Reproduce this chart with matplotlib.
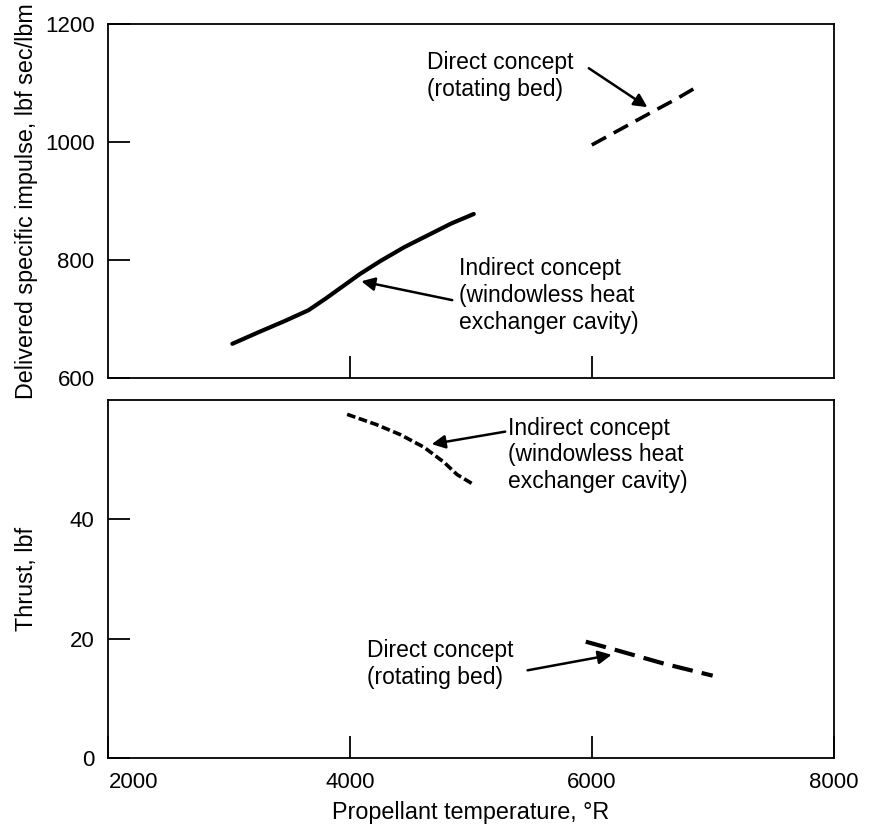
import matplotlib
matplotlib.use("Agg")
import matplotlib.pyplot as plt

plt.rcParams['font.family'] = ['Liberation Sans', 'DejaVu Sans']

# Top panel: delivered specific impulse vs propellant temperature
tempIndirectIsp = [3025, 3235, 3463, 3656, 3800, 3943, 4079, 4248, 4450, 4644, 4838, 5023]
ispIndirect = [658, 677, 697, 715, 735, 756, 776, 798, 822, 842, 862, 878]

tempDirectIsp = [6000, 6250, 6500, 6700, 6900]
ispDirect = [995, 1023, 1051, 1073, 1097]

# Bottom panel: thrust vs propellant temperature
tempIndirectThrust = [3975, 4215, 4415, 4610, 4775, 4885, 5025]
thrustIndirect = [57.6, 55.9, 54.2, 52.1, 49.6, 47.5, 45.8]

tempDirectThrust = [5950, 6200, 6600, 7000]
thrustDirect = [19.5, 18.1, 15.8, 13.8]

xTicks = [2000, 4000, 6000, 8000]
ispTicks = [600, 800, 1000, 1200]
thrustTicks = [0, 20, 40]

indirectLabel = "Indirect concept\n(windowless heat\nexchanger cavity)"
directLabel = "Direct concept\n(rotating bed)"

fig = plt.figure(figsize=(8.77, 8.27), dpi=100)
axTop = fig.add_axes([0.1237, 0.5429, 0.8267, 0.4281])
axBot = fig.add_axes([0.1237, 0.0834, 0.8267, 0.4329])

arrowStyle = dict(arrowstyle='-|>', color='black', lw=1.8,
                  mutation_scale=20, shrinkA=0, shrinkB=0)
noteSize = 16.5

# --- top panel ---
axTop.plot(tempIndirectIsp, ispIndirect, color='black', lw=3.0,
           solid_capstyle='round', solid_joinstyle='round')
axTop.plot(tempDirectIsp, ispDirect, color='black', lw=2.6,
           dashes=(4.5, 2.4))
axTop.set_xlim(2000, 8000)
axTop.set_ylim(600, 1200)
axTop.set_xticks([4000, 6000])
axTop.set_yticks(ispTicks)
axTop.tick_params(axis='x', labelbottom=False)
axTop.set_ylabel("Delivered specific impulse, lbf sec/lbm", fontsize=16.8)
axTop.yaxis.set_label_coords(-0.097, 0.5)

axTop.text(4640, 1112, directLabel, fontsize=noteSize, ha='left', va='center')
axTop.annotate("", xy=(6460, 1059), xytext=(5975, 1125), arrowprops=arrowStyle)
axTop.text(4904, 740, indirectLabel, fontsize=noteSize, ha='left', va='center')
axTop.annotate("", xy=(4092, 764), xytext=(4845, 732), arrowprops=arrowStyle)

# --- bottom panel ---
axBot.plot(tempIndirectThrust, thrustIndirect, color='black', lw=2.6,
           dashes=(2.4, 1.0))
axBot.plot(tempDirectThrust, thrustDirect, color='black', lw=3.0,
           dashes=(5, 2.2))
axBot.set_xlim(2000, 8000)
axBot.set_ylim(0, 60)
axBot.set_xticks(xTicks)
axBot.set_yticks(thrustTicks)
axBot.get_xticklabels()[0].set_ha('left')
axBot.set_ylabel("Thrust, lbf", fontsize=16.8)
axBot.yaxis.set_label_coords(-0.097, 0.5)
axBot.set_xlabel("Propellant temperature, °R", fontsize=16.8)
axBot.xaxis.set_label_coords(0.5, -0.12)

axBot.text(5308, 50.8, indirectLabel, fontsize=noteSize, ha='left', va='center')
axBot.annotate("", xy=(4675, 52.6), xytext=(5283, 54.7), arrowprops=arrowStyle)
axBot.text(4143, 15.8, directLabel, fontsize=noteSize, ha='left', va='center')
axBot.annotate("", xy=(6164, 17.3), xytext=(5468, 14.7), arrowprops=arrowStyle)

for ax in (axTop, axBot):
    for spine in ax.spines.values():
        spine.set_linewidth(1.3)
    ax.tick_params(direction='in', length=16, width=1.3, labelsize=16,
                   top=False, right=False, pad=10)

plt.savefig("out.png", dpi=100, facecolor='white')
plt.close()
